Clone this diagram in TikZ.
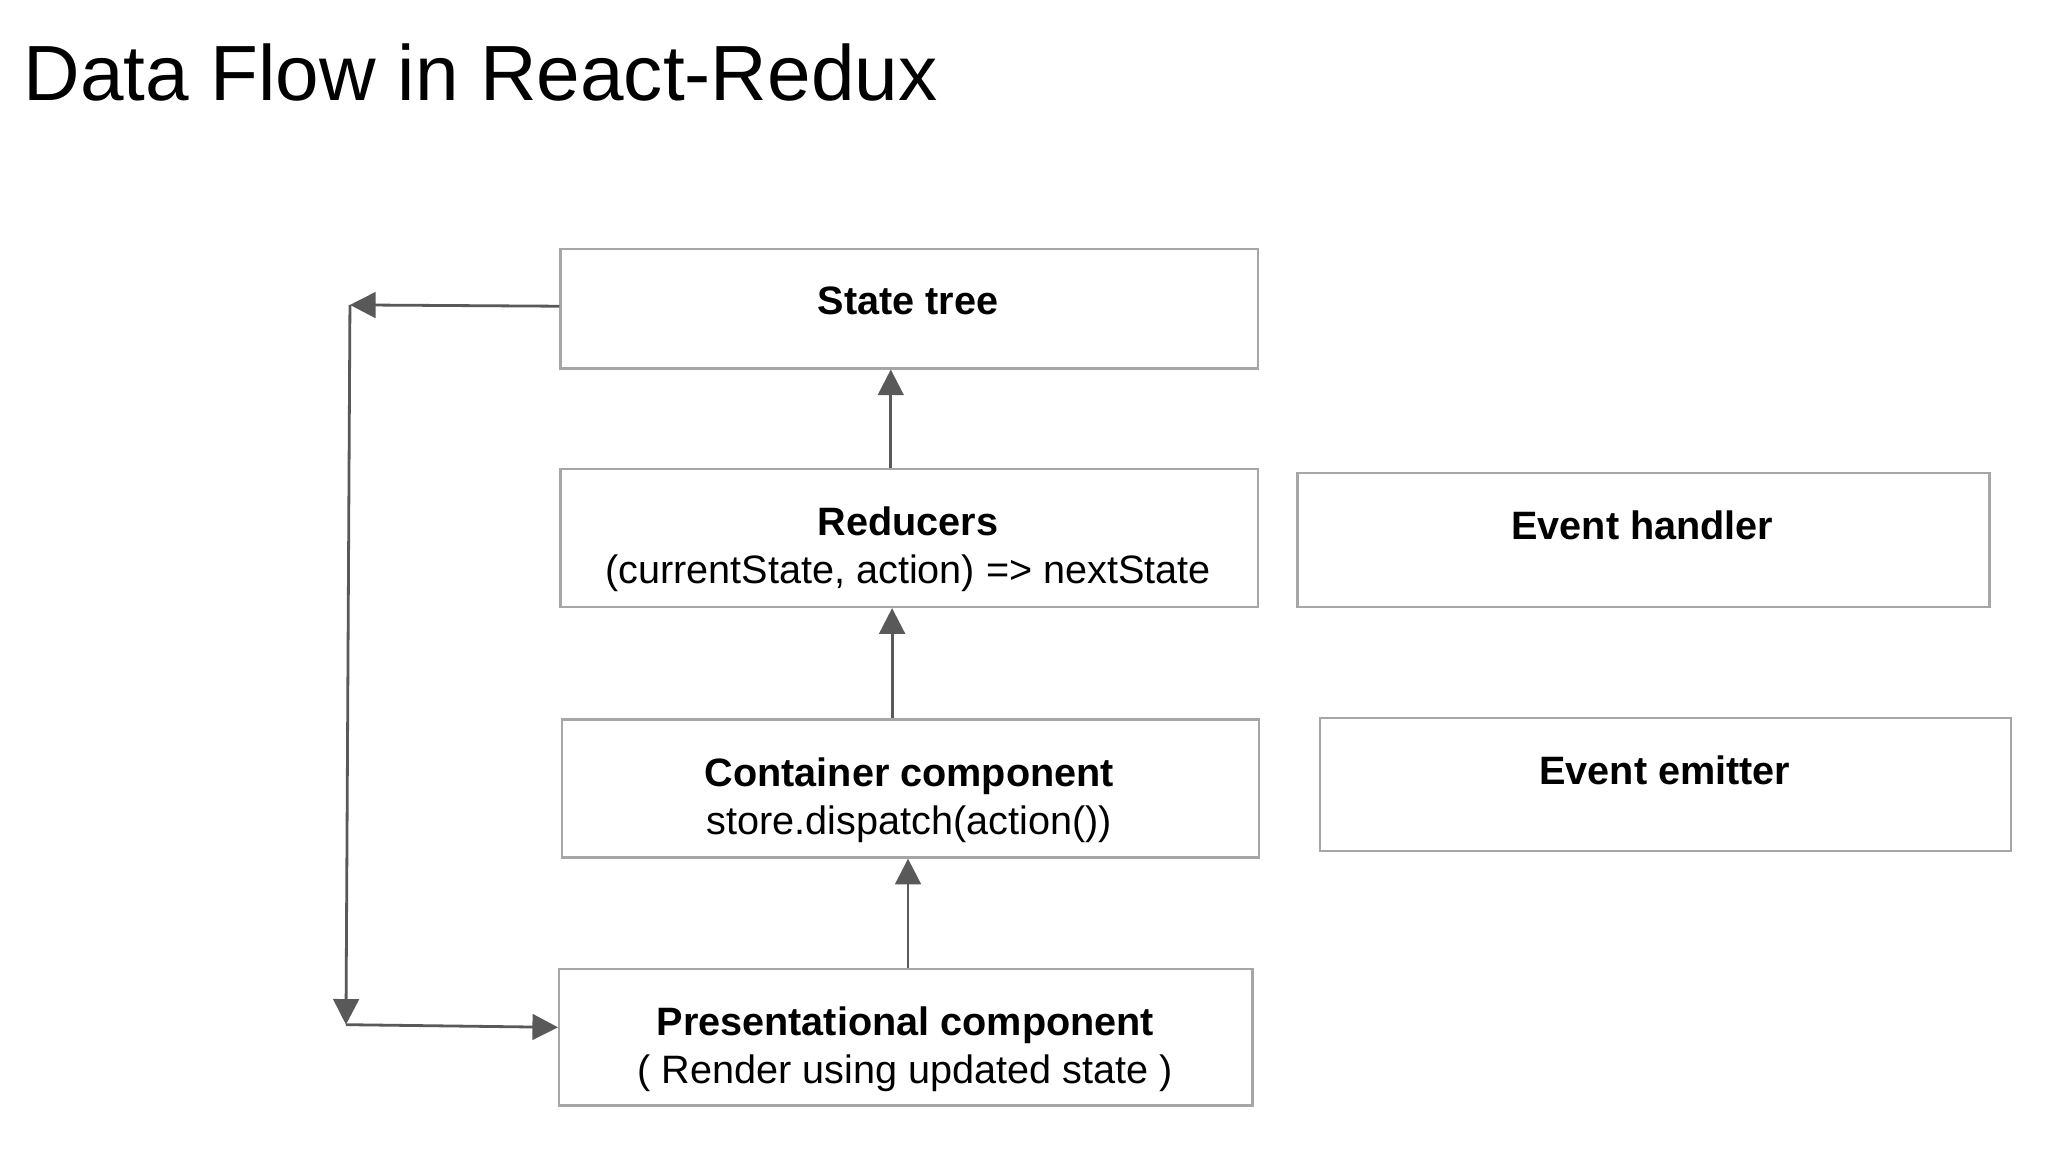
\documentclass[tikz,border=0pt]{standalone}
\usepackage{fontspec}
\setmainfont{Liberation Sans}
\usetikzlibrary{positioning,arrows.meta}
\begin{document}
\begin{tikzpicture}
    [x=0.01cm, y=-0.01cm,
    box/.style={draw=black!35, line width=0.5pt, inner sep=0pt,
    minimum height=#1*0.01cm},
    txt/.style={font=\fontsize{8.5}{10.3}\selectfont, align=center, anchor=north},
    flow/.style={draw=black!65, line width=0.6pt,
    -{Triangle[length=5.5pt, width=5.5pt]}}]
    \useasboundingbox (0,0) rectangle (1545,869);
    \node[anchor=west, inner sep=0pt, font=\fontsize{16.8}{20}\selectfont] (title) at (17,55)
        {Data Flow in React-Redux};
    % main column
    \node[box=90, minimum width=526*0.01cm, anchor=north west] (state) at (422,187) {};
    \node[box=104, minimum width=526*0.01cm, anchor=north west] (red) at (422,353) {};
    \node[box=104, minimum width=526*0.01cm, anchor=north west] (cont) at (423,542) {};
    \node[box=103, minimum width=523*0.01cm, anchor=north west] (pres) at (421,730) {};
    % side boxes
    \node[box=101, minimum width=522*0.01cm, anchor=north west] (handler) at (978,356) {};
    \node[box=100, minimum width=521*0.01cm, anchor=north west] (emitter) at (995,541) {};
    % texts
    \node[txt] (stateT) at (685,204) {\textbf{State tree}};
    \node[txt] (redT) at (685,370) {\textbf{Reducers}\\(currentState, action) => nextState};
    \node[txt] (contT) at (686,559) {\textbf{Container component}\\store.dispatch(action())};
    \node[txt] (presT) at (683,747) {\textbf{Presentational component}\\( Render using updated state )};
    \node[txt] (handlerT) at (1239,373) {\textbf{Event handler}};
    \node[txt] (emitterT) at (1256,558) {\textbf{Event emitter}};
    % connectors
    \coordinate (topL) at (264,230);
    \coordinate (botL) at (261,773);
    \draw[flow] (red.north -| 672,0) -- (state.south -| 672,0);
    \draw[flow] (cont.north -| 673,0) -- (red.south -| 673,0);
    \draw[flow] (pres.north -| 685,0) -- (cont.south -| 685,0);
    \draw[flow] (state.west |- 0,231) -- (topL);
    \draw[flow] (topL) -- (botL);
    \draw[flow] (botL) -- (pres.west |- 0,775);
\end{tikzpicture}
\end{document}
